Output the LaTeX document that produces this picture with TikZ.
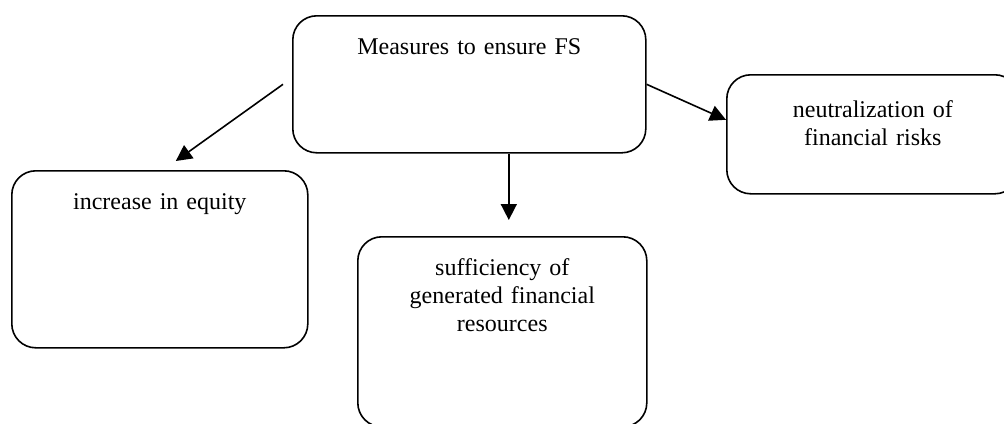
\documentclass[tikz,border=0pt]{standalone}
\usepackage{fontspec}
\setmainfont{Liberation Serif}
\usetikzlibrary{arrows.meta}

\begin{document}
\begin{tikzpicture}[x=0.5pt, y=-0.5pt,
    block/.style={draw, line width=0.8pt, rounded corners=12pt, anchor=north west,
        inner sep=0pt, align=center, text height=19.5pt,
        font=\fontsize{12pt}{13.8pt}\selectfont},
    arr/.style={-{Triangle[length=8pt,width=8pt]}, line width=0.8pt}]
    \useasboundingbox (0,0) rectangle (1004,423);
    \node[block, text width=176.5pt, text depth=49pt] (fs) at (292,15) {Measures to ensure FS};
    \node[block, text width=146pt, text height=21.5pt, text depth=38pt] (risks) at (726,74) {neutralization of\\financial risks};
    \node[block, text width=148pt, text depth=69pt] (equity) at (11,170) {increase in equity};
    \node[block, text width=144.5pt, text depth=75.5pt] (resources) at (357,236) {sufficiency of\\generated financial\\resources};
    \draw[arr] ([xshift=-4.5pt]fs.west) -- ([xshift=8pt,yshift=4.5pt]equity.north);
    \draw[arr] ([xshift=19.75pt]fs.south) -- ([xshift=3.25pt,yshift=8pt]resources.north);
    \draw[arr] (fs.east) -- ([yshift=7.25pt]risks.west);
\end{tikzpicture}
\end{document}
